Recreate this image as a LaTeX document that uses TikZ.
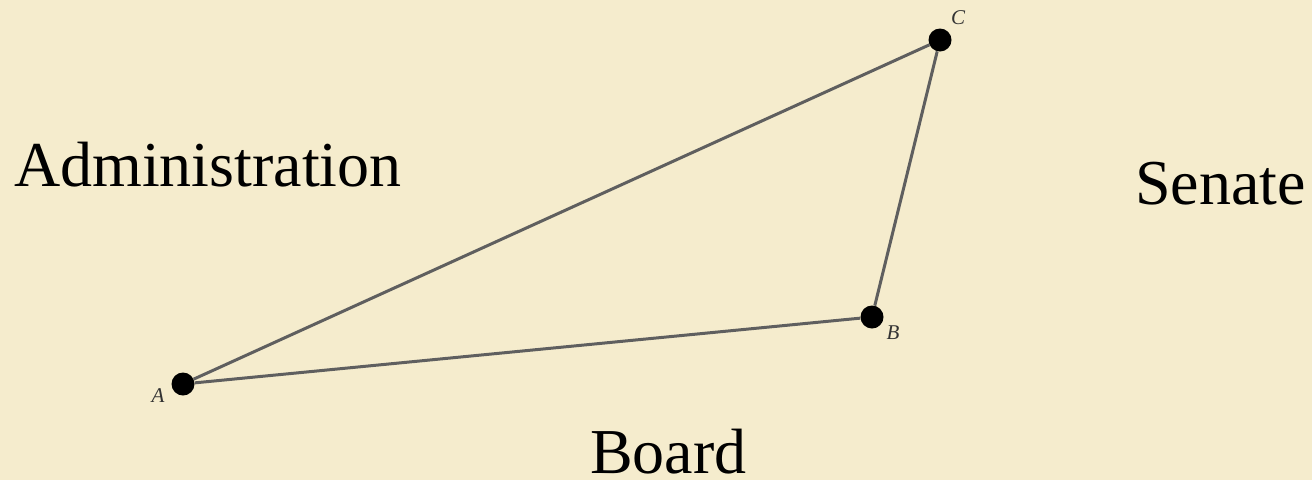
\documentclass[tikz,border=0pt]{standalone}
\usepackage{fontspec}
\setmainfont{Liberation Serif}
\usepackage{xcolor}
\definecolor{parchment}{RGB}{245,236,205}
\definecolor{edgegray}{RGB}{95,95,95}

\begin{document}
\begin{tikzpicture}[x=1pt,y=-1pt,
  vertex/.style={circle,fill=black,inner sep=0pt,minimum size=23pt},
  vlabel/.style={font=\fontsize{21}{21}\selectfont\itshape,text=black!80,inner sep=0pt},
  party/.style={font=\fontsize{64}{64}\selectfont,inner sep=0pt,text depth=0pt,anchor=base west},
  edge/.style={edgegray,line width=3pt}]
  \fill[parchment] (0,0) rectangle (1312,480);
  \useasboundingbox (0,0) rectangle (1312,480);
  % corners of the triangle
  \node[vertex] (A) at (183,384) {};
  \node[vertex] (B) at (872,317) {};
  \node[vertex] (C) at (940,40) {};
  \node[vlabel] (labA) at (158,396) {A};
  \node[vlabel] (labB) at (893,333) {B};
  \node[vlabel] (labC) at (958,18) {C};
  \draw[edge] (A) -- (B);
  \draw[edge] (B) -- (C);
  \draw[edge] (C) -- (A);
  % the three parties
  \node[party] (admin) at (14,186) {Administration};
  \node[party] (senate) at (1135,204) {Senate};
  \node[party] (board) at (590,473) {Board};
\end{tikzpicture}
\end{document}
